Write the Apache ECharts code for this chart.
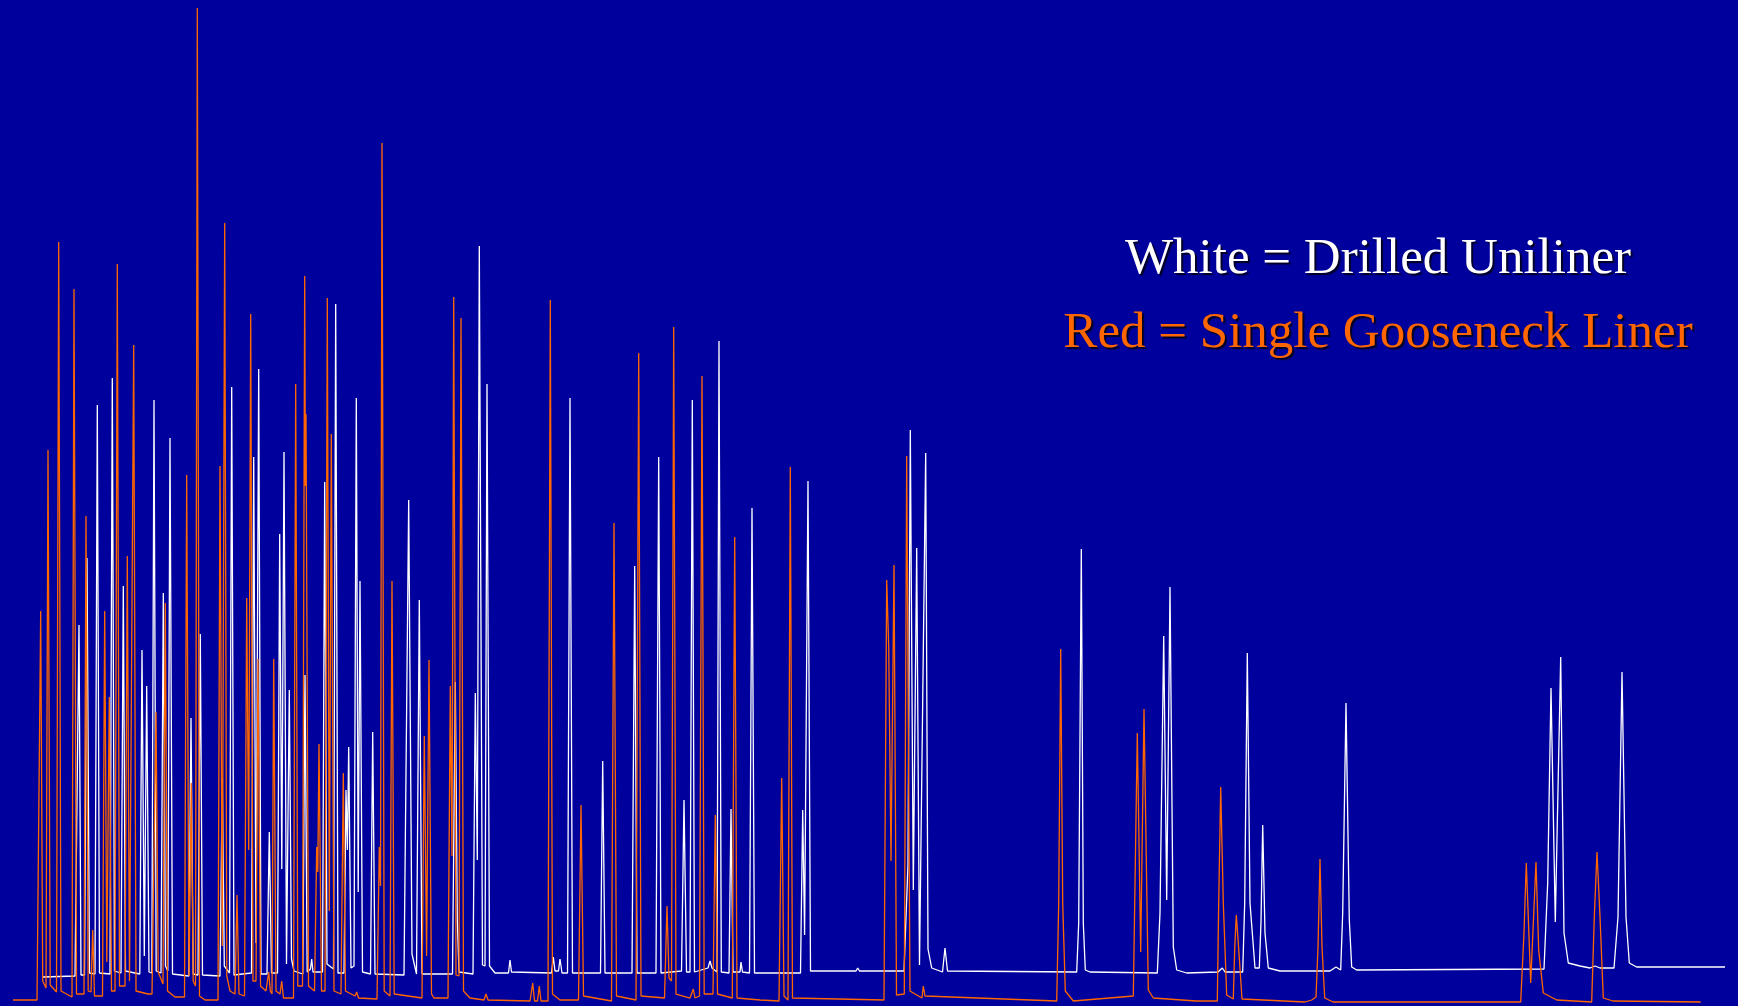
<!DOCTYPE html>
<html>
<head>
<meta charset="utf-8">
<script src="https://cdn.jsdelivr.net/npm/echarts@6/dist/echarts.min.js"></script>
<style>
html,body{margin:0;padding:0;background:#00009C;}
#chart{width:1738px;height:1006px;}
</style>
</head>
<body>
<div id="chart"></div>
<script>
// Legend texts
const legendLabels = ['White = Drilled Uniliner', 'Red = Single Gooseneck Liner'];
const seriesNames = ['Drilled Uniliner', 'Single Gooseneck Liner'];

// Retention (x) / detector signal (y) points: baseline, apex, baseline...
const whiteTrace = [[43,29],[75,30],[79,381],[81,31],[84.5,31],[87,448],[89.5,33],[95,32],[97.3,601],[99.5,33],[110,32],[112.3,628],[114.5,35],[121,33],[123.3,420],[125.5,35],[139.8,32],[142,356],[144.3,50],[146.7,320],[149,34],[151.8,33],[154,606],[156.2,35],[161,33],[163.3,413],[165.5,40],[167.8,35],[170,568],[172.5,32],[188.8,30],[191,288],[193.2,32],[198,31],[200.3,372],[202.5,31],[220,30],[222.3,227],[224.3,40],[229.5,33],[231.7,619],[234,31],[251.5,33],[253.7,549],[256,63],[258.7,637],[261,32],[267,32],[269.3,174],[271.5,33],[277.5,33],[279.7,472],[281.8,137],[284,554],[286.5,42],[289.3,316],[291.5,47],[294,35],[302.8,32],[305,331],[307.2,34],[310.5,37],[311.7,47],[313,34],[322.5,34],[324.7,524],[327,42],[333.5,37],[335.7,702],[338,33],[344,33],[346,216],[347.4,156],[348.7,259],[351,38],[354,40],[356.3,608],[358.2,114],[360,425],[362.5,34],[370.5,32],[372.7,274],[375,32],[404,31],[408.7,506],[412,52],[416.5,32],[419.3,406],[422,32],[452.5,32],[455.3,324],[457.3,86],[459,34],[473,32],[475.3,313],[477.3,146],[479.3,760],[480.3,760],[482.5,41],[485,40],[487,622],[489.5,40],[495,33],[508.5,33],[510,46],[511.5,34],[551.5,33],[553.3,49],[555,35],[558.5,35],[560,47],[562,33],[567.5,33],[570,608],[572.5,33],[600.5,33],[602.7,245],[605,33],[632,33],[634.7,440],[637,33],[656,33],[658.7,549],[661,33],[681.5,35],[684,206],[686.5,34],[690,34],[692.3,606],[694.5,34],[708,38],[710,45],[712,38],[717,34],[719,665],[721.3,34],[729,33],[731,197],[733,34],[740,34],[741,44],[742.5,34],[749.5,33],[752,498],[754.5,33],[800.5,33],[802.7,196],[804.6,71],[808,525],[810.5,35],[856,35],[857.7,38],[859.5,35],[904,35],[908,142],[910.3,576],[913.3,116],[916.7,458],[919.5,41],[921.3,41],[925.7,553],[928,57],[931.7,38],[942.5,34],[945,58],[947.5,35],[1076.7,34],[1078.7,83],[1081.3,457],[1083.3,83],[1085.3,36],[1090,34],[1157.3,33],[1160,93],[1163.7,370],[1166.7,106],[1170,419],[1173.3,59],[1176.7,36],[1186.7,33],[1218,34],[1222.3,38],[1225,34],[1242.7,34],[1244.7,103],[1247.3,353],[1250,103],[1255,38],[1259.3,38],[1261,84],[1262.7,181],[1265,73],[1268.3,38],[1280,35],[1330,35],[1336,39],[1340.7,36],[1342.7,93],[1346,303],[1349.3,86],[1351.7,39],[1356.7,36],[1544,37],[1547.7,123],[1551,318],[1555.3,84],[1560.7,349],[1564,73],[1568.3,43],[1580,40],[1590,38],[1595,40],[1600,38],[1614,38],[1618,89],[1622,334],[1626,89],[1629.3,43],[1636.7,39],[1725,39]];

const orangeTrace = [[13,6],[37,6],[38.5,8],[40.7,395],[42.7,25],[46,18],[48,556],[50.2,21],[56.5,14],[58.7,764],[61,15],[72,9],[74,717],[76.5,12],[84,12],[86,490],[88.2,15],[91,14],[92.7,76],[94.5,10],[102.5,10],[104.7,395],[106.8,44],[109.3,309],[111.5,15],[115,15],[117.3,742],[119.5,20],[125,20],[127.3,450],[129.5,25],[131.5,25],[133.7,661],[136,15],[148,12],[150,14],[152,12],[154,12],[156,294],[158.2,34],[163,22],[165.3,403],[167.5,15],[175,9],[184.5,9],[186.7,531],[189,30],[191.3,223],[193.2,25],[195.5,20],[197.3,998],[199.5,10],[205,6],[218,6],[220,540],[222.3,60],[224.7,783],[226.8,30],[230,15],[235,12],[237,111],[239,12],[244.5,10],[246.7,408],[248.7,156],[250.7,692],[253,25],[256,25],[258,347],[260.5,20],[266,15],[268.7,34],[270.3,15],[272,12],[273.7,347],[276,15],[280,12],[281.7,25],[283.5,8],[293.5,8],[295.7,622],[297.8,20],[302.5,20],[304.7,730],[305.4,520],[306,592],[308.5,20],[314.5,15],[316.7,159],[317.8,134],[319,262],[321.5,15],[325,15],[327.3,708],[329.3,95],[331.3,572],[334,15],[341,12],[343.3,233],[345.5,15],[355,10],[356.7,14],[358.5,8],[377,7],[379.3,159],[380.5,120],[382,863],[384.2,15],[390,10],[392,425],[394.2,12],[422,8],[424.3,270],[426.6,50],[429,346],[431.5,12],[434,8],[448,8],[450.3,320],[452,150],[453.7,709],[456,31],[459,30],[461,688],[463.5,15],[470,8],[484,6],[486,12],[488,6],[530,5],[532.7,23],[534.5,5],[537.5,5],[539.3,20],[541,5],[548,5],[550.3,706],[552.5,12],[560,6],[578.5,6],[581,201],[583.5,10],[611.5,5],[614,483],[616.5,10],[636,6],[638.7,653],[641,10],[664.5,8],[667,100],[669,28],[671.5,25],[673.7,679],[676,12],[690,8],[693.3,17],[695,8],[699.5,10],[702,630],[704.2,12],[713,12],[715.3,191],[717.5,12],[732.3,8],[734.7,469],[737,8],[760,6],[779,5],[781.7,228],[784,10],[788,6],[790.3,539],[792.5,8],[884,6],[886.7,426],[888.7,360],[891,145],[894,441],[896.5,11],[904.3,12],[906.7,550],[910,15],[915,12],[922,8],[923.3,20],[925,10],[1056.7,5],[1058.7,103],[1060.7,357],[1062.7,103],[1065.3,15],[1073.3,5],[1133.3,10],[1137.3,273],[1140.7,54],[1144,297],[1148.3,16],[1153.3,8],[1196,5],[1198,7],[1200,5],[1217.3,5],[1218.7,103],[1220.7,219],[1223.3,103],[1226.7,11],[1233.3,7],[1234.7,57],[1236.3,91],[1238.7,57],[1242,7],[1305,4],[1311.7,6],[1316,9],[1318,59],[1320,147],[1322,59],[1324.7,8],[1333,4],[1520.7,4],[1524,73],[1526.3,143],[1530.7,23],[1536,144],[1538.7,56],[1543.3,13],[1556.7,6],[1591.7,4],[1594.3,89],[1597,154],[1600,89],[1603.3,8],[1613,5],[1700.7,4]];

const chart = echarts.init(document.getElementById('chart'), null, {renderer: 'canvas'});
const shadow = {textShadowColor: 'rgba(0,0,30,0.95)', textShadowOffsetX: 2, textShadowOffsetY: 2, textShadowBlur: 1};
chart.setOption({
  backgroundColor: '#00009C',
  animation: false,
  grid: {left: 0, right: 0, top: 0, bottom: 0},
  xAxis: {type: 'value', min: 0, max: 1738, show: false},
  yAxis: {type: 'value', min: 0, max: 1006, show: false},
  graphic: [
    {type: 'text', x: 1378, y: 260, style: Object.assign({text: legendLabels[0], fill: '#FFFFFF', font: '51px "Liberation Serif"', textAlign: 'center', textVerticalAlign: 'middle'}, shadow)},
    {type: 'text', x: 1378, y: 334, style: Object.assign({text: legendLabels[1], fill: '#FF6600', font: '51px "Liberation Serif"', textAlign: 'center', textVerticalAlign: 'middle'}, shadow)}
  ],
  series: [
    {name: seriesNames[0], type: 'line', data: whiteTrace, showSymbol: false, symbol: 'none',
     lineStyle: {color: '#FFFFFF', width: 1.3}, z: 2},
    {name: seriesNames[1], type: 'line', data: orangeTrace, showSymbol: false, symbol: 'none',
     lineStyle: {color: '#FF6600', width: 1.3}, z: 3}
  ]
});
</script>
</body>
</html>
